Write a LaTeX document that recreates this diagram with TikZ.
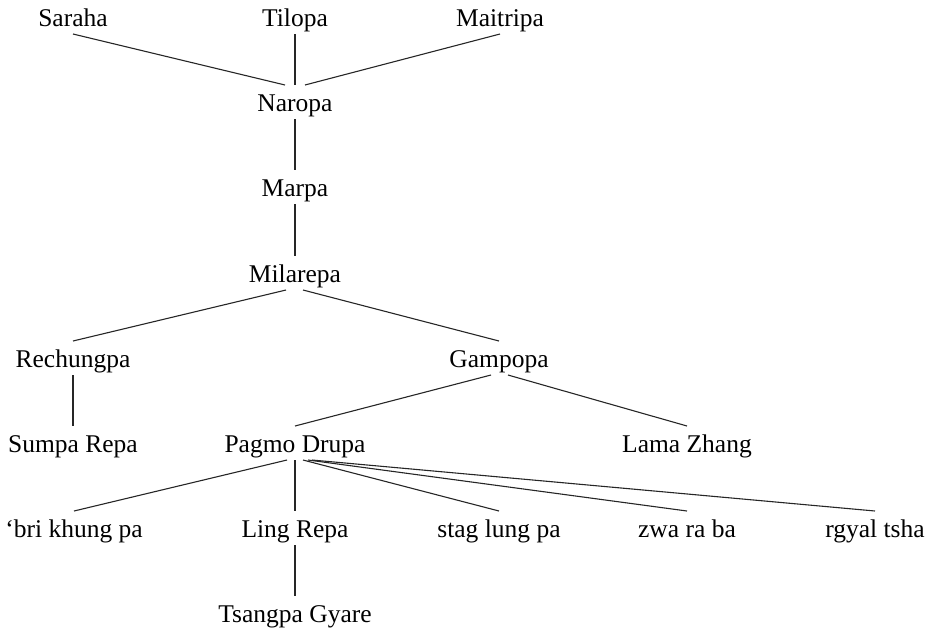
\documentclass[tikz,border=0pt]{standalone}
\usepackage{fontspec}
\setmainfont{Liberation Serif}
\begin{document}
\begin{tikzpicture}[x=1pt,y=1pt,
  person/.style={anchor=base, inner sep=0pt, outer sep=0pt,
    text height=26pt, text depth=8pt,
    font=\fontsize{25.5}{30}\selectfont},
  link/.style={line width=1.1pt, draw=black!85}]
\useasboundingbox (0,0) rectangle (933,-633);

% first generation
\node[person] (saraha)   at (73,-26)  {Saraha};
\node[person] (tilopa)   at (295,-26) {Tilopa};
\node[person] (maitripa) at (500,-26) {Maitripa};
% main line
\node[person] (naropa)   at (295,-111) {Naropa};
\node[person] (marpa)    at (295,-196) {Marpa};
\node[person] (milarepa) at (295,-282) {Milarepa};
% disciples of Milarepa
\node[person] (rechungpa) at (73,-367)  {Rechungpa};
\node[person] (gampopa)   at (499,-367) {Gampopa};
% next generation
\node[person] (sumpa)     at (73,-452)  {Sumpa Repa};
\node[person] (pagmo)     at (295,-452) {Pagmo Drupa};
\node[person] (lamazhang) at (687,-452) {Lama Zhang};
% disciples of Pagmo Drupa
\node[person] (bri)       at (74,-537)  {‘bri khung pa};
\node[person] (lingrepa)  at (295,-537) {Ling Repa};
\node[person] (staglung)  at (499,-537) {stag lung pa};
\node[person] (zwaraba)   at (687,-537) {zwa ra ba};
\node[person] (rgyaltsha) at (875,-537) {rgyal tsha};
% last generation
\node[person] (tsangpa)   at (295,-622) {Tsangpa Gyare};

% lineage links
\draw[link] (saraha.south)   -- ([xshift=-10pt]naropa.north);
\draw[link] (tilopa.south)   -- (naropa.north);
\draw[link] (maitripa.south) -- ([xshift=10pt]naropa.north);
\draw[link] (naropa.south)   -- (marpa.north);
\draw[link] (marpa.south)    -- (milarepa.north);
\draw[link] ([xshift=-9pt]milarepa.south) -- (rechungpa.north);
\draw[link] ([xshift=8pt]milarepa.south)  -- (gampopa.north);
\draw[link] (rechungpa.south) -- (sumpa.north);
\draw[link] ([xshift=-8pt]gampopa.south) -- (pagmo.north);
\draw[link] ([xshift=9pt]gampopa.south)  -- (lamazhang.north);
\draw[link] ([xshift=-8pt]pagmo.south)   -- (bri.north);
\draw[link] (pagmo.south)                -- (lingrepa.north);
\draw[link] ([xshift=8pt]pagmo.south)    -- (staglung.north);
\draw[link] ([xshift=13pt]pagmo.south)   -- (zwaraba.north);
\draw[link] ([xshift=17pt]pagmo.south)   -- (rgyaltsha.north);
\draw[link] (lingrepa.south) -- (tsangpa.north);
\end{tikzpicture}
\end{document}
